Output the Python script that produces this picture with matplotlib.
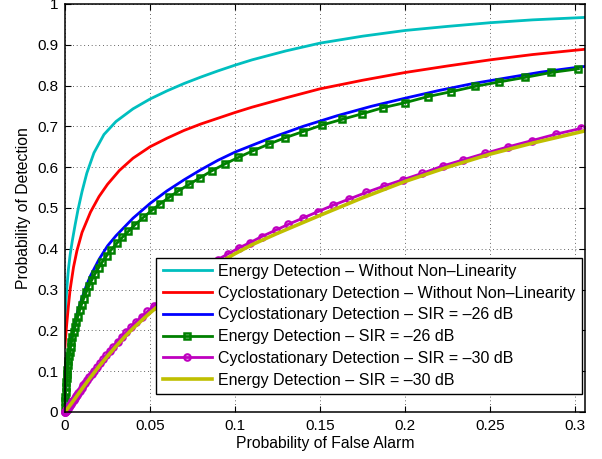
import matplotlib
matplotlib.use('Agg')
import matplotlib.pyplot as plt


##############################
#            DATA            #
##############################

# Energy Detection - Without Non-Linearity (cyan)
ed_clean_x = [0, 0.0001, 0.0003, 0.0006, 0.001, 0.002, 0.003, 0.0043, 0.006, 0.0076,
              0.01, 0.0128, 0.017, 0.0229, 0.03, 0.04, 0.05, 0.06, 0.07, 0.08,
              0.09, 0.1, 0.11, 0.13, 0.15, 0.175, 0.2, 0.225, 0.25, 0.275, 0.3059]
ed_clean_y = [0.2, 0.22, 0.245, 0.27, 0.30, 0.35, 0.385, 0.42, 0.46, 0.495,
              0.54, 0.585, 0.635, 0.68, 0.712, 0.743, 0.767, 0.787, 0.805, 0.821,
              0.836, 0.850, 0.863, 0.885, 0.904, 0.921, 0.935, 0.945, 0.954, 0.961, 0.967]

# Cyclostationary Detection - Without Non-Linearity (red)
cd_clean_x = [0, 0.0002, 0.0005, 0.001, 0.002, 0.003, 0.005, 0.007, 0.01, 0.015,
              0.02, 0.025, 0.032, 0.04, 0.05, 0.06, 0.07, 0.08, 0.09, 0.1,
              0.11, 0.13, 0.15, 0.175, 0.2, 0.225, 0.25, 0.275, 0.3059]
cd_clean_y = [0.16, 0.175, 0.19, 0.215, 0.26, 0.30, 0.355, 0.395, 0.44, 0.49,
              0.528, 0.558, 0.592, 0.622, 0.650, 0.671, 0.690, 0.706, 0.720, 0.734,
              0.747, 0.770, 0.792, 0.813, 0.832, 0.848, 0.863, 0.876, 0.889]

# Cyclostationary Detection - SIR = -26 dB (blue)
cd_26_x = [0, 0.0002, 0.0005, 0.001, 0.002, 0.003, 0.005, 0.0075, 0.01, 0.0125,
           0.015, 0.02, 0.025, 0.03, 0.04, 0.05, 0.06, 0.07, 0.08, 0.09,
           0.1, 0.12, 0.14, 0.16, 0.18, 0.2, 0.22, 0.24, 0.26, 0.28, 0.3, 0.3059]
cd_26_y = [0.01, 0.04, 0.062, 0.092, 0.136, 0.165, 0.208, 0.248, 0.28, 0.309,
           0.334, 0.374, 0.407, 0.432, 0.475, 0.511, 0.542, 0.569, 0.594, 0.617,
           0.637, 0.670, 0.700, 0.726, 0.749, 0.769, 0.788, 0.805, 0.819, 0.833, 0.844, 0.847]

# Energy Detection - SIR = -26 dB (green, squares)
ed_26_x = [0.0, 0.0001, 0.0002, 0.0004, 0.0006, 0.0008, 0.0010, 0.0012, 0.0014, 0.0017,
           0.0020, 0.0024, 0.0028, 0.0033, 0.0038, 0.0044, 0.0050, 0.0058, 0.0066, 0.0075,
           0.0086, 0.0097, 0.0110, 0.0124, 0.0140, 0.0157, 0.0176, 0.0197, 0.0220, 0.0245,
           0.0273, 0.0304, 0.0337, 0.0373, 0.0412, 0.0461, 0.051, 0.0559, 0.0612, 0.0667,
           0.0731, 0.0794, 0.0863, 0.0941, 0.102, 0.1104, 0.1202, 0.1294, 0.1398, 0.1510,
           0.1628, 0.1749, 0.1872, 0.2, 0.2134, 0.2271, 0.2412, 0.2555, 0.2706, 0.2859, 0.3019]
ed_26_y = [0.010, 0.026, 0.036, 0.050, 0.062, 0.073, 0.083, 0.093, 0.102, 0.114,
           0.125, 0.137, 0.148, 0.160, 0.171, 0.183, 0.195, 0.208, 0.221, 0.234,
           0.249, 0.263, 0.278, 0.293, 0.308, 0.323, 0.338, 0.353, 0.368, 0.383,
           0.398, 0.413, 0.428, 0.443, 0.459, 0.477, 0.494, 0.510, 0.526, 0.542,
           0.558, 0.574, 0.591, 0.608, 0.624, 0.640, 0.657, 0.672, 0.687, 0.703,
           0.717, 0.731, 0.746, 0.758, 0.773, 0.785, 0.798, 0.809, 0.820, 0.832, 0.841]

# Cyclostationary Detection - SIR = -30 dB (magenta, circles)
cd_30_x = [0, 0.0001, 0.0002, 0.0003, 0.0005, 0.0007, 0.0009, 0.0011, 0.0013, 0.0016,
           0.0019, 0.0022, 0.0026, 0.0030, 0.0034, 0.0039, 0.0044, 0.0050, 0.0056, 0.0063,
           0.0070, 0.0078, 0.0087, 0.0097, 0.0107, 0.0118, 0.0130, 0.0143, 0.0157, 0.0172,
           0.0188, 0.0205, 0.0223, 0.0242, 0.0263, 0.0285, 0.0309, 0.0334, 0.0361, 0.0389,
           0.0419, 0.0451, 0.0485, 0.0521, 0.0559, 0.0600, 0.0643, 0.0689, 0.0737, 0.0788,
           0.0842, 0.0899, 0.0959, 0.1022, 0.1088, 0.1157, 0.1241, 0.1314, 0.1398, 0.1487,
           0.1578, 0.1672, 0.1771, 0.1878, 0.1986, 0.2102, 0.2222, 0.2343, 0.2471, 0.2608,
           0.2745, 0.2888, 0.3035]
cd_30_y = [0, 0.0006, 0.0012, 0.0018, 0.003, 0.0042, 0.0054, 0.0066, 0.0078, 0.0096,
           0.0114, 0.0132, 0.0156, 0.018, 0.0204, 0.0234, 0.0264, 0.030, 0.0337, 0.038,
           0.0423, 0.0471, 0.0526, 0.0587, 0.065, 0.0711, 0.0778, 0.0851, 0.0929, 0.1013,
           0.1102, 0.1196, 0.129, 0.1389, 0.1497, 0.1605, 0.1722, 0.1838, 0.196, 0.2082,
           0.2209, 0.2334, 0.2463, 0.2597, 0.273, 0.287, 0.3008, 0.3155, 0.330, 0.3445,
           0.360, 0.3737, 0.3876, 0.402, 0.415, 0.430, 0.446, 0.460, 0.475, 0.491,
           0.507, 0.522, 0.538, 0.554, 0.569, 0.585, 0.603, 0.618, 0.634, 0.650,
           0.665, 0.681, 0.695]

# Energy Detection - SIR = -30 dB (yellow)
ed_30_x = [0, 0.002, 0.005, 0.01, 0.015, 0.02, 0.025, 0.03, 0.035, 0.04,
           0.05, 0.06, 0.07, 0.08, 0.09, 0.1, 0.11, 0.125, 0.15, 0.175,
           0.2, 0.225, 0.25, 0.275, 0.3059]
ed_30_y = [0, 0.011, 0.028, 0.057, 0.085, 0.112, 0.137, 0.161, 0.184, 0.205,
           0.243, 0.277, 0.309, 0.338, 0.364, 0.388, 0.410, 0.438, 0.482, 0.525,
           0.565, 0.600, 0.632, 0.659, 0.689]

labels = ['Energy Detection \u2013 Without Non\u2013Linearity',
          'Cyclostationary Detection \u2013 Without Non\u2013Linearity',
          'Cyclostationary Detection \u2013 SIR = \u201326 dB',
          'Energy Detection \u2013 SIR = \u201326 dB',
          'Cyclostationary Detection \u2013 SIR = \u201330 dB',
          'Energy Detection \u2013 SIR = \u201330 dB']

x_ticks = [0, 0.05, 0.1, 0.15, 0.2, 0.25, 0.3]
x_tick_labels = ['0', '0.05', '0.1', '0.15', '0.2', '0.25', '0.3']
y_ticks = [0, 0.1, 0.2, 0.3, 0.4, 0.5, 0.6, 0.7, 0.8, 0.9, 1.0]
y_tick_labels = ['0', '0.1', '0.2', '0.3', '0.4', '0.5', '0.6', '0.7', '0.8', '0.9', '1']


##############################
#            PLOT            #
##############################

plt.rcParams['font.family'] = ['Liberation Sans', 'DejaVu Sans']

fig = plt.figure(figsize=(6.02, 4.59), dpi=100)
ax = fig.add_axes([0.108, 0.1024, 0.864, 0.889])

ax.plot(ed_clean_x, ed_clean_y, color='#00BFBF', lw=2, label=labels[0])
ax.plot(cd_clean_x, cd_clean_y, color='#FF0000', lw=2, label=labels[1])
ax.plot(cd_26_x, cd_26_y, color='#0000FF', lw=2, label=labels[2])
ax.plot(ed_26_x, ed_26_y, color='#008000', lw=2, marker='s', markersize=4,
        markeredgewidth=1.8, markerfacecolor='none', label=labels[3], clip_on=False)
ax.plot(cd_30_x, cd_30_y, color='#BF00BF', lw=2, marker='o', markersize=4.6,
        markeredgewidth=1.6, markerfacecolor='none', label=labels[4], clip_on=False)
ax.plot(ed_30_x, ed_30_y, color='#BFBF00', lw=2.6, label=labels[5])

ax.set_xlim(0, 0.3059)
ax.set_ylim(0, 1)
ax.set_xticks(x_ticks)
ax.set_xticklabels(x_tick_labels)
ax.set_yticks(y_ticks)
ax.set_yticklabels(y_tick_labels)
ax.tick_params(direction='in', length=4, width=0.8, top=True, right=True,
               labelsize=11, pad=5)
for s in ax.spines.values():
    s.set_linewidth(1.1)

ax.grid(True, color='#333333', linestyle=(0, (1, 3.5)), linewidth=0.6)

ax.set_xlabel('Probability of False Alarm', fontsize=11.3, labelpad=2)
ax.set_ylabel('Probability of Detection', fontsize=11.3, labelpad=4)

leg = ax.legend(loc='lower right', bbox_to_anchor=(0.9942, 0.0441), borderaxespad=0,
                fontsize=11.5, fancybox=False, framealpha=1, edgecolor='black',
                handlelength=3.1, handletextpad=0.4, labelspacing=0.42, borderpad=0.4,
                numpoints=1)
leg.get_frame().set_linewidth(1.0)

fig.savefig('out.png', dpi=100)
